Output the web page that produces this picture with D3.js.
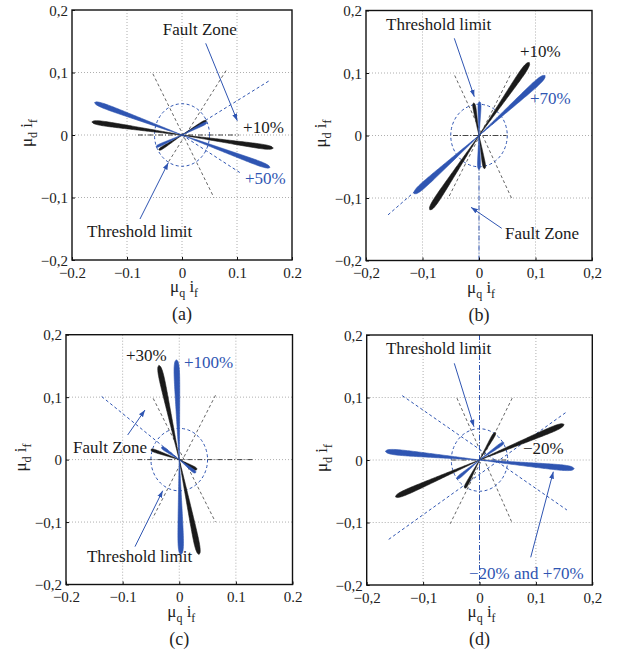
<!DOCTYPE html>
<html><head><meta charset="utf-8">
<script src="https://cdn.jsdelivr.net/npm/d3@7"></script>
<style>body{margin:0;background:#fff;} text{font-family:"Liberation Serif","Times New Roman",serif;}</style>
</head><body><svg id="chart" width="621" height="655"></svg>
<script>
// ---------- data ----------
const tickValues = [-0.2, -0.1, 0, 0.1, 0.2];
const tickLabelsComma = ["−0,2", "−0,1", "0", "0,1", "0,2"];
const tickLabelsDot = ["−0.2", "−0.1", "0", "0.1", "0.2"];
const panelNames = ["a", "b", "c", "d"];
const thresholdRadius = 0.05;

// lobe tips (mu_q i_f, mu_d i_f)
const blackMain = {
  a: [[-0.164, 0.021], [0.166, -0.021]],
  b: [[0.089, 0.117], [-0.087, -0.119]],
  c: [[-0.036, 0.151], [0.035, -0.152]],
  d: [[0.150, 0.057], [-0.149, -0.059]]
};
const blackSmall = {
  a: [[0.044, 0.023], [-0.042, -0.024]],
  b: [[-0.0095, 0.052], [0.010, -0.053]],
  c: [[-0.050, 0.016], [0.031, -0.016]],
  d: [[0.028, 0.044], [-0.026, -0.045]]
};
const blueMain = {
  a: [[-0.159, 0.052], [0.160, -0.052]],
  b: [[0.117, 0.096], [-0.115, -0.093]],
  c: [[-0.005, 0.160], [0.003, -0.152]],
  d: [[-0.167, 0.014], [0.168, -0.014]]
};
const blueSmall = {
  a: [[0.045, 0.020], [-0.047, -0.019]],
  b: [[0.001, 0.054], [0.000, -0.054]],
  c: [[-0.031, 0.020], [0.029, -0.021]],
  d: [[0.043, 0.028], [-0.040, -0.030]]
};
// sector boundary lines (gray dashed), segments [x1,y1,x2,y2]
const sectorLines = {
  a: [[-0.053, 0.098, 0.058, -0.100], [0.080, 0.103, -0.026, -0.045]],
  b: [[-0.043, 0.096, 0.058, -0.101], [0.055, 0.096, -0.055, -0.101]],
  c: [[-0.046, 0.098, 0.064, -0.100], [0.064, 0.103, -0.047, -0.094]],
  d: [[-0.040, 0.099, 0.058, -0.101], [0.058, 0.099, -0.052, -0.102]]
};
// horizontal reference (gray dash-dot)
const refLines = {
  a: [[-0.080, 0, 0.104, 0]],
  b: [[-0.046, 0, 0.049, 0]],
  c: [[-0.074, 0, 0.132, 0]],
  d: [[-0.050, 0, 0.050, 0]]
};
// fault zone lines (blue dashed)
const faultLines = {
  a: [[0, 0, 0.159, 0.087], [0, 0, 0.105, -0.060]],
  b: [[-0.161, -0.127, 0.117, 0.092]],
  c: [[-0.137, 0.101, 0, 0]],
  d: [[-0.137, 0.103, 0.155, -0.080], [-0.161, -0.127, 0.153, 0.076]]
};
// fault axis lines (blue dash-dot)
const faultAxis = {
  a: [],
  b: [[0, 0, 0, -0.2]],
  c: [],
  d: [[0, 0.2, 0, -0.2]]
};
// annotations: text, x, y (data coords), colour key
const labels = {
  a: [["Fault Zone", -0.035, 0.160, "k"], ["+10%", 0.111, 0.003, "k"], ["+50%", 0.1145, -0.078, "b"], ["Threshold limit", -0.1727, -0.163, "k"]],
  b: [["Threshold limit", -0.1646, 0.1696, "k"], ["+10%", 0.0726, 0.1251, "k"], ["+70%", 0.0903, 0.0504, "b"], ["Fault Zone", 0.046, -0.1661, "k"]],
  c: [["+30%", -0.0941, 0.1578, "k"], ["+100%", 0.0084, 0.1466, "b"], ["Fault Zone", -0.1877, 0.011, "k"], ["Threshold limit", -0.163, -0.1638, "k"]],
  d: [["Threshold limit", -0.1658, 0.1691, "k"], ["−20%", 0.0771, 0.0091, "k"], ["−20% and +70%", -0.0186, -0.1909, "b"]]
};
// arrows: x1,y1 -> x2,y2 (data coords)
const arrows = {
  a: [[0.0431, 0.1467, 0.1005, 0.0229], [-0.0764, -0.1344, -0.0249, -0.0443]],
  b: [[-0.0437, 0.1555, -0.0083, 0.0621], [0.0402, -0.1485, -0.0142, -0.1149]],
  c: [[-0.0911, 0.0394, -0.0605, 0.0794], [-0.0782, -0.1394, -0.0292, -0.0498]],
  d: [[-0.0447, 0.1547, -0.0098, 0.0533], [0.0908, -0.1557, 0.1309, -0.0187]]
};
const xTickStyle = { a: "dot", b: "comma", c: "dot", d: "comma" };

// ---------- layout / style ----------
const layout = {
  a: { l: 72, r: 292, t: 10, b: 260 },
  b: { l: 366, r: 592, t: 10.5, b: 260.5 },
  c: { l: 66, r: 292.5, t: 334.7, b: 584.5 },
  d: { l: 366.7, r: 592.3, t: 335, b: 585 }
};
const colors = { k: "#1a1a1a", b: "#2f55b2", grid: "#9a9a9a", sector: "#555", blueLine: "#2f55b2" };
const lobeW = { blackMain: 2.4, blackSmall: 1.3, blueMain: 2.5, blueSmall: 1.3 };
const lobeWPanel = { a: 0.95, b: 1.15, c: 1.1, d: 1.1 };

const svg = d3.select("#chart");

const prof = t => Math.pow(t, 0.9) * Math.sqrt(Math.max(0, 1 - Math.pow(t, 12)));
const profMax = d3.max(d3.range(0, 1.0001, 0.005), prof);

function lobePath(x, y, tip, W) {
  const x0 = x(0), y0 = y(0), x1 = x(tip[0]), y1 = y(tip[1]);
  const dx = x1 - x0, dy = y1 - y0, L = Math.hypot(dx, dy);
  const ux = dx / L, uy = dy / L, nx = -uy, ny = ux;
  const N = 60, left = [], right = [];
  for (let i = 0; i <= N; i++) {
    const t = i / N;
    const w = W * prof(t) / profMax;
    const px = x0 + dx * t, py = y0 + dy * t;
    left.push([px + nx * w, py + ny * w]);
    right.push([px - nx * w, py - ny * w]);
  }
  return d3.line()(left.concat(right.reverse())) + "Z";
}

const defs = svg.append("defs");
defs.append("marker").attr("id", "arr").attr("viewBox", "0 0 10 10").attr("refX", 10).attr("refY", 5)
  .attr("markerWidth", 7).attr("markerHeight", 7).attr("markerUnits", "userSpaceOnUse").attr("orient", "auto")
  .append("path").attr("d", "M0,1.5 L10,5 L0,8.5 Z").attr("fill", colors.b);

panelNames.forEach((p, idx) => {
  const L = layout[p];
  const x = d3.scaleLinear().domain([-0.2, 0.2]).range([L.l, L.r]);
  const y = d3.scaleLinear().domain([-0.2, 0.2]).range([L.b, L.t]);
  const g = svg.append("g");

  // grid
  const gridVals = tickValues.slice(1, -1);
  g.selectAll(".gx").data(gridVals).join("line")
    .attr("x1", d => x(d)).attr("x2", d => x(d)).attr("y1", L.t).attr("y2", L.b)
    .attr("stroke", colors.grid).attr("stroke-width", 0.8).attr("stroke-dasharray", "1,2");
  g.selectAll(".gy").data(gridVals).join("line")
    .attr("y1", d => y(d)).attr("y2", d => y(d)).attr("x1", L.l).attr("x2", L.r)
    .attr("stroke", colors.grid).attr("stroke-width", 0.8).attr("stroke-dasharray", "1,2");

  const seg = (arr, col, dash, sw) => g.selectAll(null).data(arr).join("line")
    .attr("x1", d => x(d[0])).attr("y1", d => y(d[1])).attr("x2", d => x(d[2])).attr("y2", d => y(d[3]))
    .attr("stroke", col).attr("stroke-width", sw).attr("stroke-dasharray", dash).attr("fill", "none");

  seg(refLines[p], "#333", "5,2,1,2", 0.9);
  seg(sectorLines[p], colors.sector, "3,2.5", 0.9);
  seg(faultLines[p], colors.blueLine, "3,2.5", 1);
  seg(faultAxis[p], colors.blueLine, "5,2,1,2", 1);

  // threshold circle
  g.append("ellipse").attr("cx", x(0)).attr("cy", y(0))
    .attr("rx", x(thresholdRadius) - x(0)).attr("ry", y(0) - y(thresholdRadius))
    .attr("fill", "none").attr("stroke", colors.blueLine).attr("stroke-width", 1).attr("stroke-dasharray", "3,2.5");

  const lobes = (arr, col, W) => g.selectAll(null).data(arr).join("path")
    .attr("d", d => lobePath(x, y, d, W * lobeWPanel[p]))
    .attr("fill", col).attr("stroke", col).attr("stroke-width", 0.6).attr("stroke-linejoin", "round");
  lobes(blackMain[p], colors.k, lobeW.blackMain);
  lobes(blackSmall[p], colors.k, lobeW.blackSmall);
  lobes(blueMain[p], colors.b, lobeW.blueMain);
  lobes(blueSmall[p], colors.b, lobeW.blueSmall);

  // axes box
  g.append("rect").attr("x", L.l).attr("y", L.t).attr("width", L.r - L.l).attr("height", L.b - L.t)
    .attr("fill", "none").attr("stroke", "#111").attr("stroke-width", 1.4);

  // ticks
  const xl = xTickStyle[p] === "dot" ? tickLabelsDot : tickLabelsComma;
  const xAxis = d3.axisBottom(x).tickValues(tickValues).tickSize(-3).tickPadding(7).tickFormat((d, i) => xl[i]);
  const yAxis = d3.axisLeft(y).tickValues(tickValues).tickSize(-3).tickPadding(4).tickFormat((d, i) => tickLabelsComma[i]);
  const ax = g.append("g").attr("transform", `translate(0,${L.b})`).call(xAxis);
  const ay = g.append("g").attr("transform", `translate(${L.l},0)`).call(yAxis);
  [ax, ay].forEach(a => {
    a.attr("font-family", '"Liberation Serif",serif');
    a.select(".domain").remove();
    a.selectAll("line").attr("stroke", "#111");
    a.selectAll("text").attr("font-size", 15).attr("fill", "#222")
      .style("font-family", '"Liberation Serif",serif');
  });
  ay.selectAll("text").attr("dy", "0.35em");

  // axis labels
  const xlab = g.append("text").attr("x", x(0) - 12).attr("y", L.b + 32).attr("font-size", 17).attr("fill", "#222");
  xlab.append("tspan").text("μ");
  xlab.append("tspan").text("q").attr("font-size", 12).attr("dy", 5);
  xlab.append("tspan").text(" i").attr("dy", -5);
  xlab.append("tspan").text("f").attr("font-size", 12).attr("dy", 5);

  const yc = (L.t + L.b) / 2;
  const ylab = g.append("text").attr("transform", `translate(${L.l - 40},${yc + 12}) rotate(-90)`)
    .attr("font-size", 17).attr("fill", "#222");
  ylab.append("tspan").text("μ");
  ylab.append("tspan").text("d").attr("font-size", 12).attr("dy", 5);
  ylab.append("tspan").text(" i").attr("dy", -5);
  ylab.append("tspan").text("f").attr("font-size", 12).attr("dy", 5);

  // caption
  g.append("text").attr("x", (L.l + L.r) / 2).attr("y", L.b + 60).attr("text-anchor", "middle")
    .attr("font-size", 18).attr("fill", "#222").text(`(${p})`);

  // annotations
  g.selectAll(null).data(labels[p]).join("text")
    .attr("x", d => x(d[1])).attr("y", d => y(d[2])).attr("font-size", 17)
    .attr("fill", d => d[3] === "b" ? colors.b : "#1a1a1a").text(d => d[0]);
  g.selectAll(null).data(arrows[p]).join("line")
    .attr("x1", d => x(d[0])).attr("y1", d => y(d[1])).attr("x2", d => x(d[2])).attr("y2", d => y(d[3]))
    .attr("stroke", colors.b).attr("stroke-width", 1).attr("marker-end", "url(#arr)");
});
</script></body></html>
